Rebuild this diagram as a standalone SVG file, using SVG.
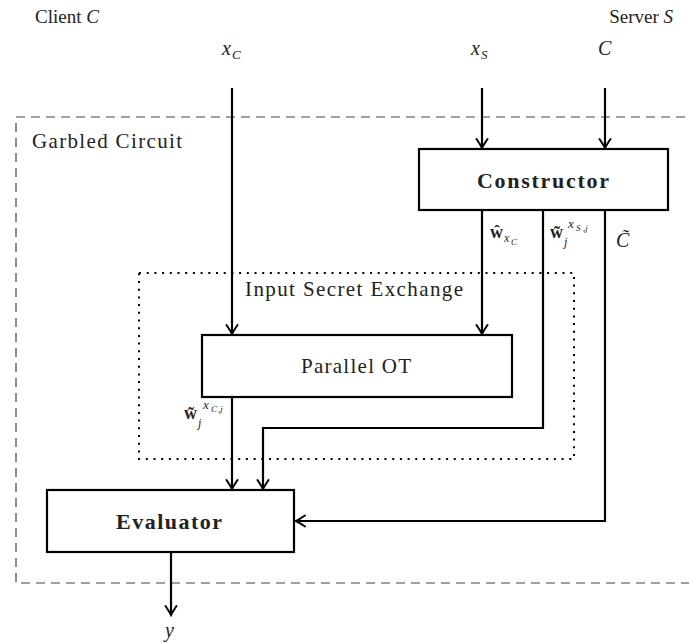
<svg xmlns="http://www.w3.org/2000/svg" width="689" height="643" viewBox="0 0 689 643">
<style>
.t{font-family:"Liberation Serif","Times New Roman",serif;fill:#222}
.i{font-style:italic}
.b{font-weight:bold}
.box{fill:#fff;stroke:#000;stroke-width:2.2}
.ln{fill:none;stroke:#000;stroke-width:2.2}
</style>
<defs>
<marker id="ah" viewBox="-12 -8 14 16" markerWidth="14" markerHeight="16" refX="0" refY="0" orient="auto" markerUnits="userSpaceOnUse">
<path d="M-9,-5.5 Q-3,-1.5 0,0 Q-3,1.5 -9,5.5" fill="none" stroke="#000" stroke-width="2" stroke-linecap="round"/>
</marker>
</defs>
<rect width="689" height="643" fill="#fff"/>

<g id="garbled-circuit">
<path d="M700,117 H16 V583 H700" fill="none" stroke="#444" stroke-width="1.2" stroke-dasharray="9 6"/>
<text class="t" x="32" y="148" font-size="21" textLength="150">Garbled Circuit</text>
</g>

<g id="input-secret-exchange">
<rect x="139" y="273" width="435" height="186" fill="none" stroke="#000" stroke-width="2" stroke-dasharray="2 5.7"/>
<text class="t" x="245" y="296" font-size="21" textLength="218">Input Secret Exchange</text>
</g>

<g id="client">
<text class="t" x="35" y="23" font-size="19">Client <tspan class="i">C</tspan></text>
</g>
<g id="server">
<text class="t" x="673" y="23" font-size="19" text-anchor="end">Server <tspan class="i">S</tspan></text>
</g>

<g id="inputs">
<text class="t i" x="222" y="55" font-size="20">x</text><text class="t i" x="232" y="59" font-size="13">C</text>
<text class="t i" x="471" y="55" font-size="20">x</text><text class="t i" x="481" y="59" font-size="13">S</text>
<text class="t i" x="598" y="55" font-size="20">C</text>
</g>

<g id="connectors">
<path class="ln" d="M232,88 V334" marker-end="url(#ah)"/>
<path class="ln" d="M482,88 V148" marker-end="url(#ah)"/>
<path class="ln" d="M605,88 V148" marker-end="url(#ah)"/>
<path class="ln" d="M482,210 V334" marker-end="url(#ah)"/>
<path class="ln" d="M543,210 V428 H263 V489" marker-end="url(#ah)"/>
<path class="ln" d="M605,210 V521 H296" marker-end="url(#ah)"/>
<path class="ln" d="M232,397 V489" marker-end="url(#ah)"/>
<path class="ln" d="M171,552 V615" marker-end="url(#ah)"/>
</g>

<g id="constructor">
<rect class="box" x="419" y="149" width="249" height="61"/>
<text class="t b" x="543" y="188" font-size="22" text-anchor="middle" textLength="132">Constructor</text>
</g>

<g id="parallel-ot">
<rect class="box" x="202" y="335" width="310" height="62"/>
<text class="t" x="356" y="373" font-size="21" text-anchor="middle" textLength="110">Parallel OT</text>
</g>

<g id="evaluator">
<rect class="box" x="47" y="490" width="247" height="62"/>
<text class="t b" x="169" y="529" font-size="22" text-anchor="middle" textLength="106">Evaluator</text>
</g>

<g id="labels">
<text class="t b" x="490" y="238" font-size="18">ŵ</text>
<text class="t i" x="504" y="242" font-size="12">x</text><text class="t i" x="511" y="245" font-size="9">C</text>

<text class="t b" x="550" y="238" font-size="18">w̃</text>
<text class="t i" x="564" y="246" font-size="12">j</text>
<text class="t i" x="568" y="228" font-size="13">x</text><text class="t i" x="576" y="231" font-size="9">S</text><text class="t i" x="583" y="231" font-size="9">,j</text>

<text class="t i" x="616" y="247" font-size="20">C̃</text>

<text class="t b" x="184" y="419" font-size="18">w̃</text>
<text class="t i" x="198" y="427" font-size="12">j</text>
<text class="t i" x="203" y="409" font-size="13">x</text><text class="t i" x="211" y="412" font-size="9">C</text><text class="t i" x="218" y="412" font-size="9">,j</text>

<text class="t i" x="165" y="637" font-size="20">y</text>
</g>
</svg>
